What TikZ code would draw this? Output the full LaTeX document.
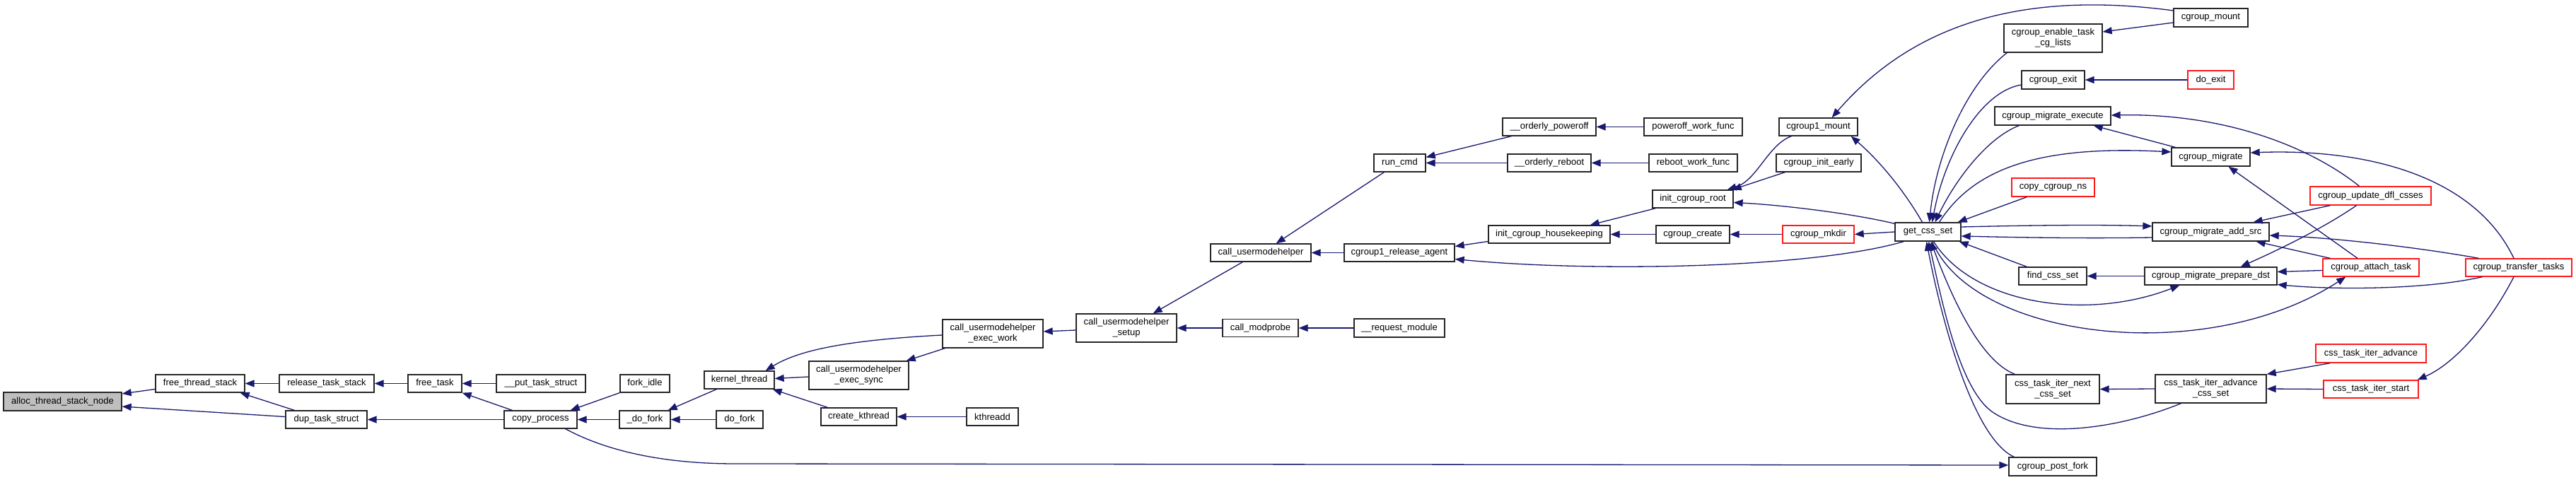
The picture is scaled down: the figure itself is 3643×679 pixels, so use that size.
\documentclass[tikz,border=0pt]{standalone}
\usepackage{fontspec}
\setmainfont{Liberation Sans}
\usetikzlibrary{arrows.meta,calc}
\definecolor{edgeblue}{HTML}{191970}
\definecolor{boxgray}{HTML}{BFBFBF}
\definecolor{boxred}{HTML}{FF1A1A}
\begin{document}
\begin{tikzpicture}[x=1pt,y=-1pt,
  fn/.style={draw=black!85, line width=1.3pt, fill=white, inner sep=0pt,
    font=\fontsize{13}{15}\selectfont, align=center, minimum height=25pt},
  fnr/.style={fn, draw=boxred},
  ed/.style={draw=edgeblue, line width=1.3pt, -{Triangle[length=13pt,width=10pt]}}]
\fill[white] (0,0) rectangle (3643,679);
\useasboundingbox (0,0) rectangle (3643,679);

% nodes
\node[fn,fill=boxgray,minimum width=167pt,minimum height=26pt] (alloc) at (88.5,568) {alloc\_thread\_stack\_node};
\node[fn,minimum width=126pt] (fts) at (283,542.5) {free\_thread\_stack};
\node[fn,minimum width=134pt] (rts) at (462,542.5) {release\_task\_stack};
\node[fn,minimum width=76pt] (ft) at (615,542.5) {free\_task};
\node[fn,minimum width=115pt] (dts) at (461.5,593.5) {dup\_task\_struct};
\node[fn,minimum width=126pt] (pts) at (765,542.5) {\_\_put\_task\_struct};
\node[fn,minimum width=103pt] (cp) at (764.5,593.5) {copy\_process};
\node[fn,minimum width=70pt] (fi) at (912,542.5) {fork\_idle};
\node[fn,minimum width=72pt] (dfk) at (912,593.5) {\_do\_fork};
\node[fn,minimum width=66pt] (dof) at (1046,593.5) {do\_fork};
\node[fn,minimum width=99pt] (kt) at (1045.5,537.5) {kernel\_thread};
\node[fn,minimum width=142pt,minimum height=40pt] (cuew) at (1404,472) {call\_usermodehelper\\\_exec\_work};
\node[fn,minimum width=141pt,minimum height=40pt] (cues) at (1214.5,531) {call\_usermodehelper\\\_exec\_sync};
\node[fn,minimum width=107pt] (ck) at (1214.5,589.5) {create\_kthread};
\node[fn,minimum width=73pt] (kd) at (1403.5,589.5) {kthreadd};
\node[fn,minimum width=142pt,minimum height=40pt] (cus) at (1593,464) {call\_usermodehelper\\\_setup};
\node[fn,minimum width=107pt] (cmp) at (1782.5,464) {call\_modprobe};
\node[fn,minimum width=128pt,minimum height=26pt] (rqm) at (1979,464) {\_\_request\_module};
\node[fn,minimum width=142pt] (cu) at (1783,357.5) {call\_usermodehelper};
\node[fn,minimum width=156pt] (cra) at (1979,357.5) {cgroup1\_release\_agent};
\node[fn,minimum width=73pt] (rc) at (1979.5,230.5) {run\_cmd};
\node[fn,minimum width=132pt] (op) at (2191,179.5) {\_\_orderly\_poweroff};
\node[fn,minimum width=118pt] (orb) at (2191,230.5) {\_\_orderly\_reboot};
\node[fn,minimum width=139pt] (pwf) at (2394.5,179.5) {poweroff\_work\_func};
\node[fn,minimum width=125pt] (rwf) at (2394.5,230.5) {reboot\_work\_func};
\node[fn,minimum width=172pt] (ich) at (2191,331.5) {init\_cgroup\_housekeeping};
\node[fn,minimum width=114pt] (icr) at (2394,281.5) {init\_cgroup\_root};
\node[fn,minimum width=104pt] (ccr) at (2394,331.5) {cgroup\_create};
\node[fn,minimum width=111pt] (c1m) at (2571.5,179.5) {cgroup1\_mount};
\node[fn,minimum width=120pt] (cie) at (2572,230.5) {cgroup\_init\_early};
\node[fnr,minimum width=101pt] (cmk) at (2571.5,331.5) {cgroup\_mkdir};
\node[fn,minimum width=93pt,minimum height=26pt] (gcs) at (2726.5,328) {get\_css\_set};
\node[fn,minimum width=139pt,minimum height=40pt] (cetl) at (2903.5,54) {cgroup\_enable\_task\\\_cg\_lists};
\node[fn,minimum width=89pt,minimum height=26pt] (cex) at (2903.5,113) {cgroup\_exit};
\node[fn,minimum width=164pt,minimum height=26pt] (cme) at (2903,164) {cgroup\_migrate\_execute};
\node[fnr,minimum width=117pt,minimum height=26pt] (ccns) at (2903.5,265) {copy\_cgroup\_ns};
\node[fn,minimum width=96pt] (fcs) at (2903,390.5) {find\_css\_set};
\node[fn,minimum width=132pt,minimum height=41pt] (ctinc) at (2903,550.5) {css\_task\_iter\_next\\\_css\_set};
\node[fn,minimum width=124pt,minimum height=26pt] (cpf) at (2903,660) {cgroup\_post\_fork};
\node[fn,minimum width=105pt,minimum height=26pt] (cmt) at (3126.5,25) {cgroup\_mount};
\node[fnr,minimum width=65pt,minimum height=26pt] (dex) at (3126.5,113) {do\_exit};
\node[fn,minimum width=111pt,minimum height=26pt] (cmg) at (3126.5,222) {cgroup\_migrate};
\node[fn,minimum width=165pt,minimum height=26pt] (cmas) at (3126.5,328) {cgroup\_migrate\_add\_src};
\node[fn,minimum width=187pt] (cmpd) at (3126.5,390.5) {cgroup\_migrate\_prepare\_dst};
\node[fn,minimum width=157pt,minimum height=40pt] (ctiacs) at (3126.5,550) {css\_task\_iter\_advance\\\_css\_set};
\node[fnr,minimum width=171pt,minimum height=26pt] (cudc) at (3352.5,277) {cgroup\_update\_dfl\_csses};
\node[fnr,minimum width=136pt] (cat) at (3353,378.5) {cgroup\_attach\_task};
\node[fnr,minimum width=156pt,minimum height=26pt] (ctia) at (3353,500) {css\_task\_iter\_advance};
\node[fnr,minimum width=134pt] (ctis) at (3353,550.5) {css\_task\_iter\_start};
\node[fnr,minimum width=150pt] (ctt) at (3562,378.5) {cgroup\_transfer\_tasks};

% edges (source -> target, arrow at target)
\draw[ed] ($(fts.west)+(0,8)$) -- ($(alloc.east)+(0,-11)$);
\draw[ed] ($(dts.west)+(0,-4)$) -- ($(alloc.east)+(0,7)$);
\draw[ed] (rts.west) -- (fts.east);
\draw[ed] ($(dts.north west)+(13,0)$) -- ($(fts.south east)+(-7,0)$);
\draw[ed] (ft.west) -- (rts.east);
\draw[ed] (cp.west) -- (dts.east);
\draw[ed] (pts.west) -- (ft.east);
\draw[ed] ($(cp.north west)+(12,0)$) -- (ft.south east);
\draw[ed] (fi.south west) -- ($(cp.north east)+(-10,0)$);
\draw[ed] (dfk.west) -- (cp.east);
\draw[ed] (dof.west) -- (dfk.east);
\draw[ed] ($(kt.south west)+(18,0)$) -- ($(dfk.north east)+(-4,0)$);
\draw[ed] ($(cuew.west)+(0,2)$) .. controls (1200,481) and (1130,495) .. ($(kt.north east)+(-13,0)$);
\draw[ed] ($(cues.west)+(0,2)$) -- ($(kt.east)+(0,-2)$);
\draw[ed] ($(ck.north west)+(10,0)$) -- ($(kt.south east)+(-3,0)$);
\draw[ed] ($(cuew.south west)+(4,0)$) -- ($(cues.north east)+(-4,0)$);
\draw[ed] (kd.west) -- (ck.east);
\draw[ed] ($(cus.west)+(0,3)$) -- ($(cuew.east)+(0,-3)$);
\draw[ed] ($(cu.south west)+(46,0)$) -- ($(cus.north east)+(-34,0)$);
\draw[ed] (cmp.west) -- (cus.east);
\draw[ed] (rqm.west) -- (cmp.east);
\draw[ed] ($(rc.south west)+(15,0)$) -- ($(cu.north east)+(-50,0)$);
\draw[ed] (cra.west) -- (cu.east);
\draw[ed] ($(op.south west)+(13,0)$) -- ($(rc.east)+(0,-8)$);
\draw[ed] (orb.west) -- (rc.east);
\draw[ed] (pwf.west) -- (op.east);
\draw[ed] (rwf.west) -- (orb.east);
\draw[ed] ($(ich.west)+(0,10)$) -- ($(cra.east)+(0,-9)$);
\draw[ed] ($(gcs.south west)+(13,0)$) .. controls (2560,380) and (2250,385) .. ($(cra.east)+(0,9)$);
\draw[ed] ($(icr.south west)+(5,0)$) -- ($(ich.north east)+(-29,0)$);
\draw[ed] (ccr.west) -- (ich.east);
\draw[ed] (cmk.west) -- (ccr.east);
\draw[ed] ($(c1m.south west)+(18,0)$) .. controls (2500,205) and (2485,255) .. ($(icr.north east)+(-9,0)$);
\draw[ed] ($(cie.south west)+(13,0)$) -- ($(icr.north east)+(-2,0)$);
\draw[ed] ($(gcs.north west)+(0,2)$) .. controls (2620,302) and (2520,290) .. ($(icr.east)+(0,5)$);
\draw[ed] (gcs.west) -- (cmk.east);
\draw[ed] ($(gcs.north)+(-8,0)$) .. controls (2690,265) and (2655,225) .. ($(c1m.south east)+(-10,0)$);
\draw[ed] ($(cmt.west)+(0,-10)$) .. controls (2850,-15) and (2700,40) .. ($(c1m.north east)+(-37,0)$);
\draw[ed] ($(cmt.west)+(0,7)$) -- ($(cetl.east)+(0,-9)$);
\draw[ed] ($(cetl.south west)+(5,0)$) .. controls (2780,120) and (2738,220) .. ($(gcs.north)+(2,0)$);
\draw[ed] ($(cex.west)+(0,7)$) .. controls (2800,130) and (2750,220) .. ($(gcs.north)+(6,0)$);
\draw[ed] (dex.west) -- (cex.east);
\draw[ed] ($(cme.south west)+(35,0)$) .. controls (2810,195) and (2765,255) .. ($(gcs.north)+(10,0)$);
\draw[ed] ($(gcs.north)+(16,0)$) .. controls (2790,240) and (2880,205) .. ($(cmg.west)+(0,-7)$);
\draw[ed] ($(cmg.north west)+(6,0)$) -- ($(cme.south east)+(-25,0)$);
\draw[ed] ($(cudc.north)+(-16,0)$) .. controls (3270,210) and (3150,160) .. ($(cme.east)+(0,-1)$);
\draw[ed] ($(ctt.north)+(-7,0)$) .. controls (3500,250) and (3350,210) .. ($(cmg.east)+(0,-6)$);
\draw[ed] ($(cat.north)+(-19,0)$) -- ($(cmg.south)+(25,0)$);
\draw[ed] ($(cudc.south west)+(29,0)$) -- ($(cmas.north east)+(-23,0)$);
\draw[ed] ($(cudc.south)+(-20,0)$) .. controls (3290,320) and (3230,350) .. ($(cmpd.north east)+(-52,0)$);
\draw[ed] ($(ctt.north west)+(19,0)$) .. controls (3420,350) and (3300,336) .. ($(cmas.east)+(0,5)$);
\draw[ed] ($(cat.north west)+(11,0)$) -- ($(cmas.south east)+(-19,0)$);
\draw[ed] ($(cat.west)+(0,4)$) -- ($(cmpd.east)+(0,-6)$);
\draw[ed] ($(ctt.south west)+(24,0)$) .. controls (3430,410) and (3300,410) .. ($(cmpd.east)+(0,12)$);
\draw[ed] ($(gcs.east)+(0,-7)$) .. controls (2900,318) and (2980,318) .. ($(cmas.west)+(0,-8)$);
\draw[ed] ($(cmas.west)+(0,8)$) .. controls (2980,337) and (2900,337) .. ($(gcs.east)+(0,6)$);
\draw[ed] ($(ccns.south west)+(22,0)$) -- ($(gcs.north east)+(-5,0)$);
\draw[ed] ($(fcs.north west)+(12,0)$) -- ($(gcs.south east)+(-3,0)$);
\draw[ed] (cmpd.west) -- (fcs.east);
\draw[ed] ($(gcs.south)+(8,0)$) .. controls (2790,430) and (2950,455) .. ($(cmpd.south west)+(50,0)$);
\draw[ed] ($(gcs.south)+(6,0)$) .. controls (2790,480) and (3120,520) .. ($(cat.south west)+(33,0)$);
\draw[ed] ($(ctinc.north west)+(13,0)$) .. controls (2800,510) and (2760,420) .. ($(gcs.south)+(4,0)$);
\draw[ed] (ctiacs.west) -- (ctinc.east);
\draw[ed] ($(ctiacs.south west)+(37,0)$) .. controls (3000,605) and (2880,625) .. (2818,583) .. controls (2770,550) and (2745,420) .. ($(gcs.south)+(1,0)$);
\draw[ed] ($(cpf.north west)+(8,0)$) .. controls (2790,620) and (2745,450) .. ($(gcs.south)+(-2,0)$);
\draw[ed] ($(cp.south east)+(-17,0)$) .. controls (880,650) and (980,656) .. (1040,656) -- ($(cpf.west)+(0,-2)$);
\draw[ed] ($(ctia.south west)+(21,0)$) -- (ctiacs.north east);
\draw[ed] (ctis.west) -- (ctiacs.east);
\draw[ed] ($(ctt.south)+(-7,0)$) .. controls (3520,460) and (3470,515) .. ($(ctis.north east)+(-2,0)$);
\end{tikzpicture}
\end{document}
